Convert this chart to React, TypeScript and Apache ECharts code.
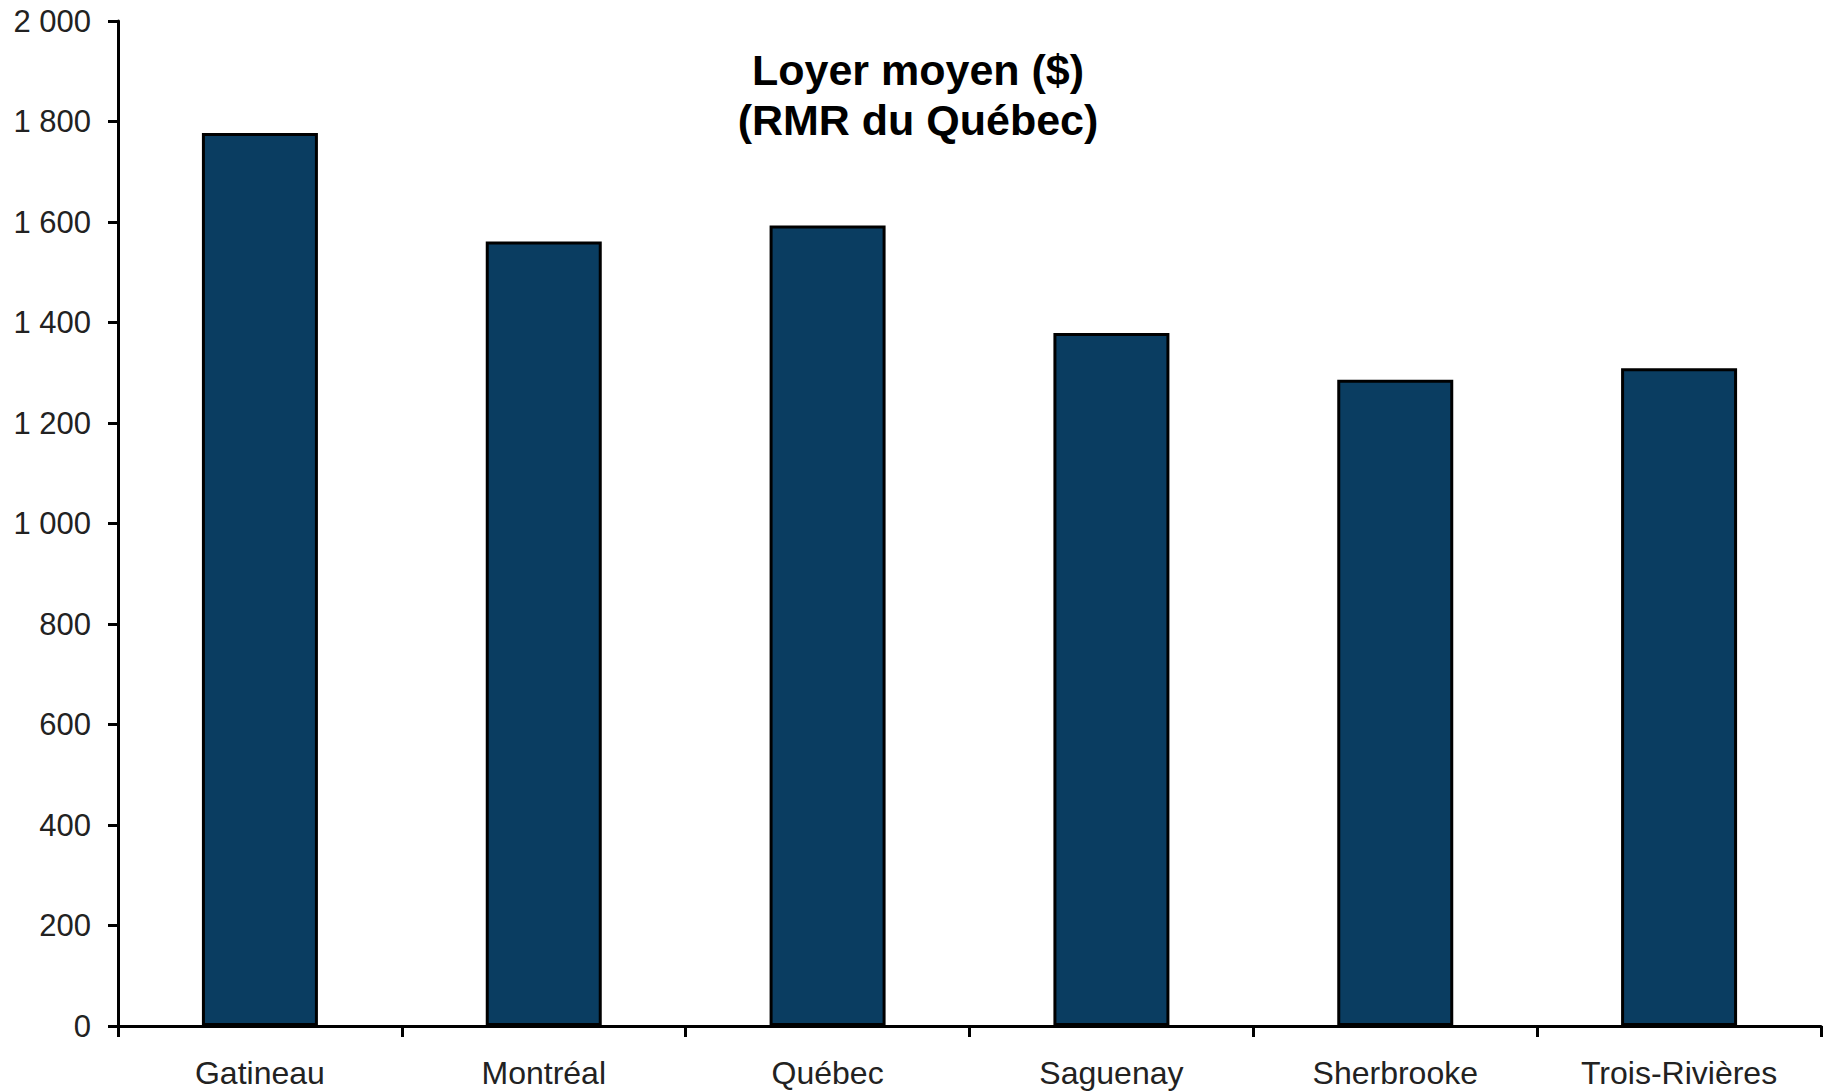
import React, { useEffect, useRef } from "react";
import * as echarts from "echarts";

// Average rent by census metropolitan area (RMR), Québec
const categories = ["Gatineau", "Montréal", "Québec", "Saguenay", "Sherbrooke", "Trois-Rivières"];
const averageRent = [1777, 1561, 1593, 1379, 1286, 1309];
const yTicks = { min: 0, max: 2000, interval: 200 };
const titleLines = ["Loyer moyen ($)", "(RMR du Québec)"];

const FONT = "'Liberation Sans', Arial, sans-serif";

function formatThousands(v: number): string {
  return String(v).replace(/\B(?=(\d{3})+(?!\d))/g, " ");
}

export default function App() {
  const ref = useRef<HTMLDivElement>(null);

  useEffect(() => {
    if (!ref.current) return;
    const chart = echarts.init(ref.current, null, { renderer: "svg" });
    chart.setOption({
      animation: false,
      backgroundColor: "#ffffff",
      graphic: [
        {
          type: "text",
          x: 918,
          y: 45,
          style: {
            text: titleLines.join("\n"),
            fontFamily: FONT,
            fontSize: 43,
            fontWeight: "bold",
            fill: "#000000",
            lineHeight: 50,
            align: "center",
            verticalAlign: "top",
          },
        },
      ],
      grid: { left: 118, right: 10, top: 21, bottom: 66, containLabel: false },
      xAxis: {
        type: "category",
        data: categories,
        boundaryGap: true,
        axisLine: { show: true, lineStyle: { color: "#000000", width: 3 } },
        axisTick: { show: true, length: 11, lineStyle: { color: "#000000", width: 3 } },
        axisLabel: {
          margin: 31,
          fontFamily: FONT,
          fontSize: 32,
          color: "#222222",
        },
        splitLine: { show: false },
      },
      yAxis: {
        type: "value",
        min: yTicks.min,
        max: yTicks.max,
        interval: yTicks.interval,
        axisLine: { show: true, lineStyle: { color: "#000000", width: 3 } },
        axisTick: { show: true, length: 10, lineStyle: { color: "#000000", width: 3 } },
        axisLabel: {
          margin: 27,
          fontFamily: FONT,
          fontSize: 31,
          color: "#222222",
          formatter: (v: number) => formatThousands(v),
        },
        splitLine: { show: false },
      },
      series: [
        {
          type: "bar",
          data: averageRent,
          barWidth: 116,
          itemStyle: {
            color: "#0a3d61",
            borderColor: "#000000",
            borderWidth: 3,
          },
        },
      ],
    });
    return () => chart.dispose();
  }, []);

  return (
    <div
      ref={ref}
      style={{ position: "fixed", left: 0, top: 0, width: 1831, height: 1092, background: "#fff" }}
    />
  );
}
